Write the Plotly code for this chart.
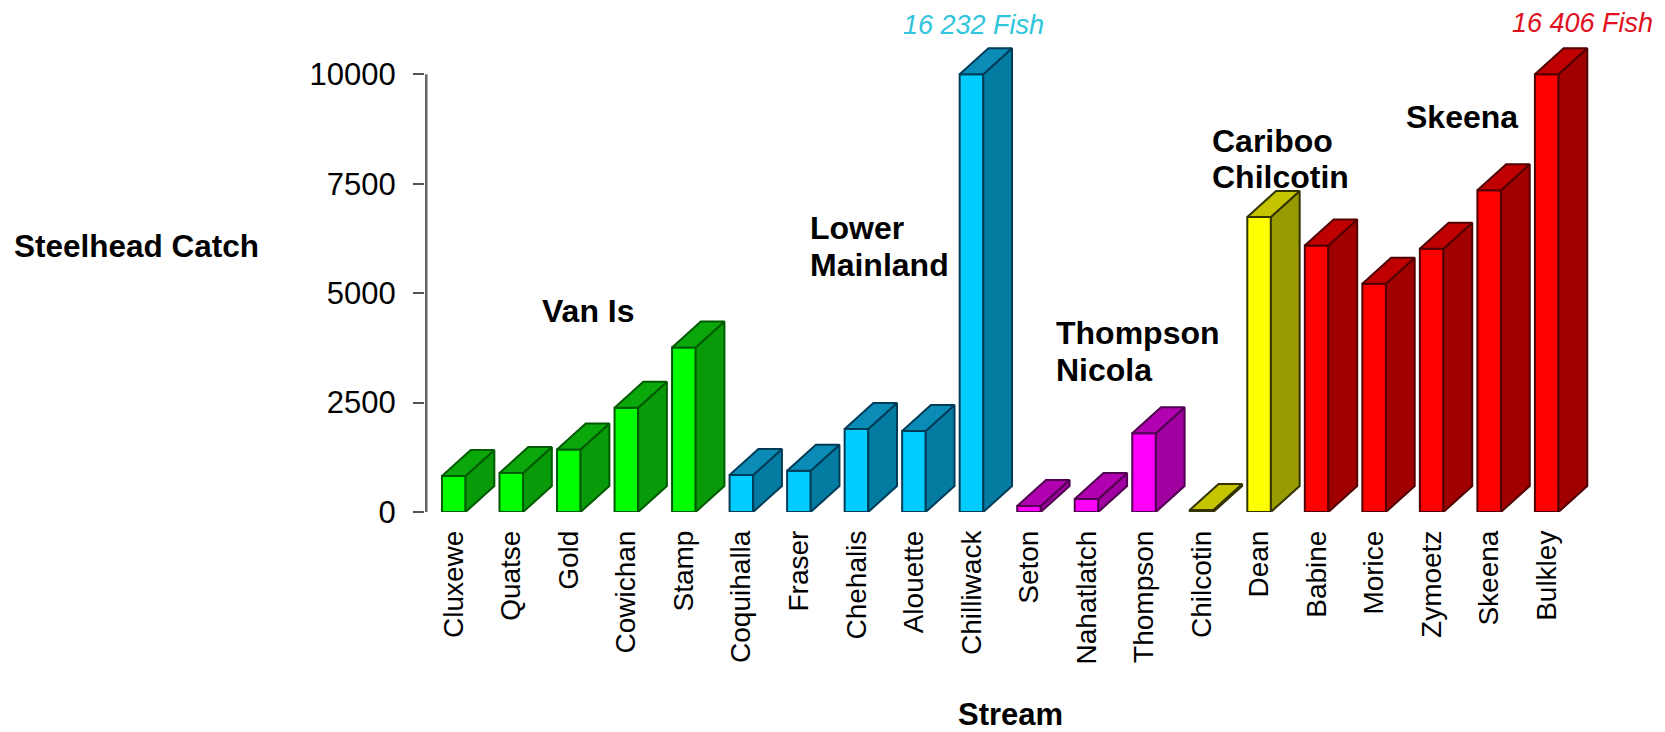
import plotly.graph_objects as go

# ---------- data ----------
streams = ["Cluxewe", "Quatse", "Gold", "Cowichan", "Stamp", "Coquihalla", "Fraser",
           "Chehalis", "Alouette", "Chilliwack", "Seton", "Nahatlatch", "Thompson",
           "Chilcotin", "Dean", "Babine", "Morice", "Zymoetz", "Skeena", "Bulkley"]
catch = [822, 890, 1430, 2380, 3760, 845, 943, 1895, 1850, 16232, 137, 297, 1800,
         45, 6740, 6090, 5215, 6015, 7350, 16406]
regions = ["van"] * 5 + ["lower"] * 5 + ["thompson"] * 3 + ["cariboo"] * 2 + ["skeena"] * 5
y_ticks = [0, 2500, 5000, 7500, 10000]
axis_cap = 10000

# ---------- styling ----------
palette = {  # front, side, top, outline
    "van": ("#00FF00", "#089A08", "#0BA80B", "#005A00"),
    "lower": ("#00CCFF", "#047CA2", "#0A8CB6", "#003C58"),
    "thompson": ("#FF00FF", "#A000A0", "#B000B0", "#500050"),
    "cariboo": ("#FFFF00", "#999900", "#C4C400", "#333300"),
    "skeena": ("#FF0000", "#A00000", "#C00000", "#500000"),
}
W, H = 1665, 732
L, R, T, B = 425.25, 32.25, 40, 220
BAR_W = 0.41
DX = 0.5      # depth of the 3-D face in category units
DY = 594      # depth of the 3-D face in catch units
Y_TOP = axis_cap * (H - B - T) / (H - B - 74.3)   # room above the capped axis for the 3-D tops
X_MIN, X_MAX = -0.5, 20.5
FONT = "Liberation Sans"
EDGE = 2

shown = [min(v, axis_cap) for v in catch]
fig = go.Figure()

fig.add_trace(go.Bar(
    x=list(range(len(streams))), y=shown, width=BAR_W, cliponaxis=False,
    marker=dict(color=[palette[r][0] for r in regions],
                line=dict(color=[palette[r][3] for r in regions], width=EDGE)),
    hoverinfo="skip", showlegend=False))

for i, (v, r) in enumerate(zip(shown, regions)):
    _, side, top, edge = palette[r]
    x0, x1 = i - BAR_W / 2, i + BAR_W / 2
    fig.add_trace(go.Scatter(
        x=[x1, x1 + DX, x1 + DX, x1, x1], y=[0, DY, v + DY, v, 0],
        mode="lines", fill="toself", fillcolor=side, cliponaxis=False,
        line=dict(color=edge, width=EDGE), hoverinfo="skip", showlegend=False))
    fig.add_trace(go.Scatter(
        x=[x0, x0 + DX, x1 + DX, x1, x0], y=[v, v + DY, v + DY, v, v],
        mode="lines", fill="toself", fillcolor=top, cliponaxis=False,
        line=dict(color=edge, width=EDGE), hoverinfo="skip", showlegend=False))

# value axis line stops at the capped maximum, not at the top of the plotting room
# (half of its width is clipped by the plot edge)
fig.add_trace(go.Scatter(x=[X_MIN, X_MIN], y=[0, axis_cap], mode="lines", cliponaxis=False,
                         line=dict(color="#666666", width=5), hoverinfo="skip", showlegend=False))


def px(x):
    return (x - L) / (W - L - R)


def py(y):
    return 1 - (y - T) / (H - T - B)


def label(text, left, cy, size=32, bold=True, color="#000000", italic=False):
    t = f"<b>{text}</b>" if bold else text
    t = f"<i>{t}</i>" if italic else t
    fig.add_annotation(text=t, xref="paper", yref="paper", x=px(left), y=py(cy),
                       xanchor="left", yanchor="middle", showarrow=False,
                       font=dict(family=FONT, size=size, color=color))


group_labels = [("Van Is", 540, 311), ("Lower", 808, 228), ("Mainland", 808, 265),
                ("Thompson", 1054, 333), ("Nicola", 1054, 370), ("Cariboo", 1210, 141),
                ("Chilcotin", 1210, 177), ("Skeena", 1404, 117)]
for text, left, cy in group_labels:
    label(text, left, cy)
label("Steelhead Catch", 12, 246, size=31.5)
label("Stream", 956, 714.5, size=31)
label(f"{catch[9]:,} Fish".replace(",", " "), 901, 25, size=27, bold=False, italic=True, color="#2FC5DC")
label(f"{catch[19]:,} Fish".replace(",", " "), 1510, 23, size=27, bold=False, italic=True, color="#E01020")

fig.update_layout(
    width=W, height=H, autosize=False, paper_bgcolor="white", plot_bgcolor="white",
    margin=dict(l=L, r=R, t=T, b=B, pad=0), showlegend=False,
    font=dict(family=FONT, color="#000000"),
    xaxis=dict(range=[X_MIN, X_MAX], tickmode="array", tickvals=list(range(len(streams))),
               ticktext=streams, tickangle=-90, tickfont=dict(size=28), ticks="",
               showgrid=False, zeroline=False, showline=False, ticklabelstandoff=12),
    yaxis=dict(range=[0, Y_TOP], tickmode="array", tickvals=y_ticks,
               ticktext=[str(v) for v in y_ticks], tickfont=dict(size=31),
               ticks="outside", ticklen=11, tickwidth=2, tickcolor="#555555",
               showline=False, showgrid=False, zeroline=False, ticklabelstandoff=11),
)

fig.write_html("out.html", config={"displayModeBar": False},
               post_script="document.body.style.margin='0';document.body.style.overflow='hidden';")
